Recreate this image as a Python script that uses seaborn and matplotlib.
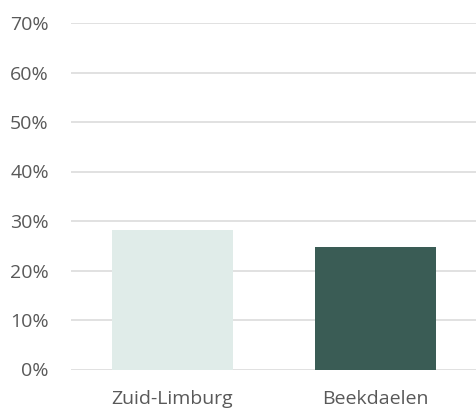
import matplotlib
matplotlib.use("Agg")
import matplotlib.pyplot as plt
import seaborn as sns
import pandas as pd
from matplotlib.ticker import PercentFormatter

regions = ["Zuid-Limburg", "Beekdaelen"]
shares = [28.2, 24.7]
bar_colors = ["#E0ECE9", "#3A5C55"]
y_ticks = [0, 10, 20, 30, 40, 50, 60, 70]

sns.set_theme(style="white")
plt.rcParams["font.family"] = ["Open Sans", "DejaVu Sans"]

df = pd.DataFrame({"region": regions, "share": shares})

fig = plt.figure(figsize=(4.76, 4.12), dpi=100)
ax = fig.add_axes([71 / 476, 1 - 369.5 / 412, 406 / 476, (369.5 - 23) / 412])

sns.barplot(data=df, x="region", y="share", hue="region", palette=bar_colors,
            width=0.6, legend=False, ax=ax, zorder=3, saturation=1, linewidth=0)

ax.set_ylim(0, 70)
ax.set_yticks(y_ticks)
ax.yaxis.set_major_formatter(PercentFormatter(decimals=0))
ax.grid(axis="y", color="#D9D9D9", linewidth=1.1, zorder=0)
ax.set_axisbelow(True)
for s in ax.spines.values():
    s.set_visible(False)
ax.set_xlabel("")
ax.set_ylabel("")
ax.tick_params(axis="both", length=0, labelsize=14, colors="#595959")
ax.tick_params(axis="y", pad=16)
ax.tick_params(axis="x", pad=15)

fig.savefig("out.png", dpi=100)
